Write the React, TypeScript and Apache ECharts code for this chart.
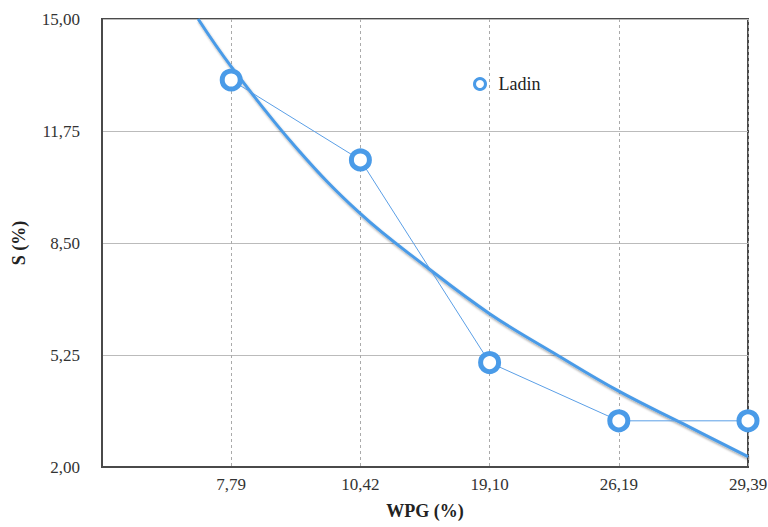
import React, { useEffect, useRef } from "react";
import * as echarts from "echarts";

const categories = ["7,79", "10,42", "19,10", "26,19", "29,39"];
const sValues = [13.23, 10.91, 5.03, 3.34, 3.34];
// Trend curve: [x position (category index, 1-based), S]
const trendX = [0.744, 1.0, 1.5, 2.0, 2.5, 3.0, 3.5, 4.0, 4.5, 5.0];
const trendY = [15.0, 13.62, 11.28, 9.35, 7.84, 6.45, 5.3, 4.2, 3.25, 2.3];
const yTicks = [2.0, 5.25, 8.5, 11.75, 15.0];

const Y0 = yTicks[0];
const fmt = (v: number) => v.toFixed(2).replace(".", ",");
const serif = "Liberation Serif";
const blue = "#4a9be8";

export default function App() {
  const ref = useRef<HTMLDivElement>(null);
  useEffect(() => {
    document.body.style.margin = "0";
    if (!ref.current) return;
    const chart = echarts.init(ref.current, null, { renderer: "svg" });
    chart.setOption({
      animation: false,
      backgroundColor: "#fff",
      grid: {
        left: 102,
        right: 20,
        top: 19,
        bottom: 60,
        outerBoundsMode: "none",
        containLabel: false,
        show: true,
        borderColor: "#4a4a4a",
        borderWidth: 2,
      },
      legend: {
        data: ["Ladin"],
        left: 468,
        top: 70,
        icon: "circle",
        itemWidth: 11,
        itemHeight: 11,
        itemStyle: { color: "#fff", borderColor: blue, borderWidth: 3 },
        textStyle: { fontFamily: serif, fontSize: 18, color: "#222", padding: [0, 0, 0, 8] },
      },
      xAxis: {
        type: "value",
        min: 0,
        max: 5,
        interval: 1,
        name: "WPG (%)",
        nameLocation: "middle",
        nameGap: 35,
        nameTextStyle: { fontFamily: serif, fontSize: 18, fontWeight: "bold", color: "#222" },
        axisLine: { show: true, lineStyle: { color: "#4a4a4a", width: 2 } },
        axisTick: { show: false },
        axisLabel: {
          margin: 9,
          fontFamily: serif,
          fontSize: 17,
          color: "#333",
          overflow: "none",
          hideOverlap: false,
          formatter: (v: number) => (v >= 1 && v <= 5 ? categories[Math.round(v) - 1] : ""),
        },
        splitLine: { show: true, lineStyle: { color: "#aaa", type: [3, 3], width: 1 } },
      },
      yAxis: {
        type: "value",
        min: 0,
        max: yTicks[yTicks.length - 1] - Y0,
        interval: yTicks[1] - yTicks[0],
        name: "S (%)",
        nameLocation: "middle",
        nameGap: 74,
        nameRotate: 90,
        nameTextStyle: { fontFamily: serif, fontSize: 18, fontWeight: "bold", color: "#222" },
        axisLine: { show: true, lineStyle: { color: "#4a4a4a", width: 2 } },
        axisTick: { show: false },
        axisLabel: {
          margin: 22,
          fontFamily: serif,
          fontSize: 17,
          color: "#333",
          formatter: (v: number) => fmt(v + Y0),
        },
        splitLine: { show: true, lineStyle: { color: "#bbb", width: 1 } },
      },
      series: [
        {
          name: "trend",
          type: "line",
          smooth: 0.4,
          symbol: "none",
          silent: true,
          clip: true,
          data: trendX.map((x, i) => [x, trendY[i] - Y0]),
          lineStyle: {
            color: blue,
            width: 3,
            shadowColor: "rgba(0,0,0,0.35)",
            shadowBlur: 2,
            shadowOffsetX: 1,
            shadowOffsetY: 2,
          },
          z: 2,
        },
        {
          name: "Ladin",
          type: "line",
          symbol: "circle",
          symbolSize: 18,
          data: sValues.map((v, i) => [i + 1, v - Y0]),
          lineStyle: { color: "#5b9fe6", width: 1 },
          itemStyle: { color: "#fff", borderColor: blue, borderWidth: 5 },
          z: 3,
        },
      ],
    });
    return () => chart.dispose();
  }, []);
  return <div ref={ref} style={{ width: 768, height: 527 }} />;
}
